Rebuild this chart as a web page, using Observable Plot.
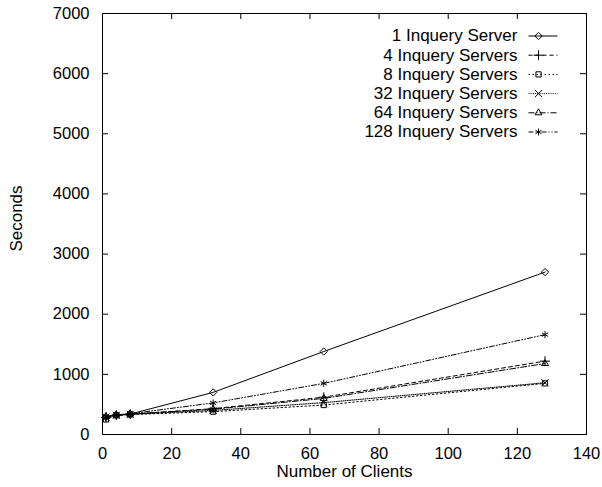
<!DOCTYPE html>
<html>
<head>
<meta charset="utf-8">
<script src="https://cdn.jsdelivr.net/npm/d3@7"></script>
<script src="https://cdn.jsdelivr.net/npm/@observablehq/plot@0.6"></script>
<style>
  html, body { margin: 0; padding: 0; background: #fff; }
  #chart { position: relative; width: 602px; height: 487px; }
  #chart svg { position: absolute; left: 0; top: 0; }
</style>
</head>
<body>
<div id="chart"></div>
<script>
// ---- data ----
const clients = [1, 4, 8, 32, 64, 128];
const seriesNames = [
  "1 Inquery Server",
  "4 Inquery Servers",
  "8 Inquery Servers",
  "32 Inquery Servers",
  "64 Inquery Servers",
  "128 Inquery Servers"
];
const servers1   = [290, 325, 340, 700, 1380, 2700];
const servers4   = [285, 322, 338, 430, 620, 1220];
const servers8   = [250, 318, 332, 380, 490, 850];
const servers32  = [290, 320, 335, 400, 530, 860];
const servers64  = [300, 325, 342, 420, 600, 1180];
const servers128 = [300, 327, 345, 525, 850, 1660];
const xTicks = [0, 20, 40, 60, 80, 100, 120, 140];
const yTicks = [0, 1000, 2000, 3000, 4000, 5000, 6000, 7000];
const xLabel = "Number of Clients";
const yLabel = "Seconds";

// ---- styles ----
const values = [servers1, servers4, servers8, servers32, servers64, servers128];
const symbols = ["diamond2", "plus", "square2", "times", "triangle2", "asterisk"];
const dashes = [null, "4,3", "1.5,2.5", "1,1.2", "6,2,1,2", "5,2,1,2,1,2"];

const W = 602, H = 487;
const mT = 13, mL = 102, mR = 16, mB = 53;
const innerW = W - mL - mR, innerH = H - mT - mB;
const tickLen = 6;
const font = "'Liberation Sans', Arial, Helvetica, sans-serif";

const rows = seriesNames.map((name, i) =>
  clients.map((c, j) => ({name, clients: c, seconds: values[i][j]}))
);

const marks = [];
rows.forEach((r, i) => {
  marks.push(Plot.line(r, {x: "clients", y: "seconds", stroke: "black", strokeWidth: 1,
    strokeDasharray: dashes[i] || undefined}));
});
rows.forEach((r, i) => {
  marks.push(Plot.dot(r, {x: "clients", y: "seconds", symbol: symbols[i], r: 3.3,
    stroke: "black", fill: "none", strokeWidth: 1}));
});
// inward ticks (gnuplot style) on all four sides
marks.push(Plot.tickX(xTicks, {x: d => d, insetTop: innerH - tickLen, stroke: "black"}));
marks.push(Plot.tickX(xTicks, {x: d => d, insetBottom: innerH - tickLen, stroke: "black"}));
marks.push(Plot.tickY(yTicks, {y: d => d, insetRight: innerW - tickLen, stroke: "black"}));
marks.push(Plot.tickY(yTicks, {y: d => d, insetLeft: innerW - tickLen, stroke: "black"}));
marks.push(Plot.frame({stroke: "black", strokeWidth: 1}));

const main = Plot.plot({
  width: W, height: H,
  marginTop: mT, marginLeft: mL, marginRight: mR, marginBottom: mB,
  style: {fontFamily: font, fontSize: "16.5px", background: "white", color: "black", overflow: "visible"},
  x: {domain: [0, 140], ticks: xTicks, tickSize: 0, tickPadding: 13, tickFormat: d3.format("d"),
      label: null},
  y: {domain: [0, 7000], ticks: yTicks, tickSize: 0, tickPadding: 13, tickFormat: d3.format("d"),
      label: null},
  marks
});

// ---- overlay: legend (inside top-right) and axis titles, pixel layout ----
const legendTextRight = 517, legendX1 = 528, legendX2 = 557, legendMarkX = 538;
const legendY0 = 35.5, legendStep = 19.2;
const legendRows = seriesNames.map((name, i) => ({name, i, y: legendY0 + i * legendStep}));

const overlayMarks = [
  Plot.text(legendRows, {x: () => legendTextRight, y: "y", text: "name", textAnchor: "end",
    fill: "black"}),
  Plot.text([xLabel], {x: () => mL + innerW / 2, y: () => 471, text: d => d, fill: "black"}),
  Plot.text([yLabel], {x: () => 16, y: () => 218, text: d => d, rotate: -90, fill: "black"})
];
legendRows.forEach(d => {
  overlayMarks.push(Plot.link([d], {x1: () => legendX1, x2: () => legendX2, y1: "y", y2: "y",
    stroke: "black", strokeWidth: 1, strokeDasharray: dashes[d.i] || undefined}));
  overlayMarks.push(Plot.dot([d], {x: () => legendMarkX, y: "y", symbol: symbols[d.i], r: 3.3,
    stroke: "black", fill: "none", strokeWidth: 1}));
});

const overlay = Plot.plot({
  width: W, height: H,
  margin: 0,
  x: {type: "identity", axis: null},
  y: {type: "identity", axis: null},
  style: {fontFamily: font, fontSize: "17px", background: "transparent", color: "black"},
  marks: overlayMarks
});

const chart = document.getElementById("chart");
chart.appendChild(main);
chart.appendChild(overlay);
</script>
</body>
</html>
